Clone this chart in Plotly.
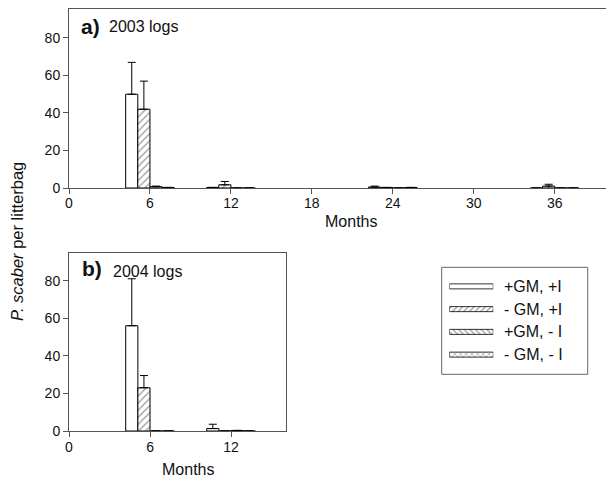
import plotly.graph_objects as go

W, H = 606, 480

# ---------------- data ----------------
series_names = ["+GM, +I", "- GM, +I", "+GM, - I", "- GM, - I"]
patterns = ["", "/", "\\", "x"]

months_2003 = [6, 12, 24, 36]
vals_2003 = [
    [50.0, 0.3, 0.5, 0.0],   # +GM, +I
    [42.0, 1.7, 0.3, 1.0],   # -GM, +I
    [0.7, 0.0, 0.0, 0.0],    # +GM, -I
    [0.3, 0.0, 0.3, 0.0],    # -GM, -I
]
err_2003 = [
    [17.0, 0.0, 0.5, 0.0],
    [15.0, 1.8, 0.0, 1.0],
    [0.3, 0.0, 0.0, 0.0],
    [0.0, 0.0, 0.0, 0.0],
]

months_2004 = [6, 12]
vals_2004 = [
    [56.0, 1.3],
    [23.0, 0.0],
    [0.0, 0.3],
    [0.0, 0.0],
]
err_2004 = [
    [25.0, 2.3],
    [6.5, 0.0],
    [0.0, 0.0],
    [0.0, 0.0],
]

x_ticks_2003 = [0, 6, 12, 18, 24, 30, 36]
x_ticks_2004 = [0, 6, 12]
y_ticks = [0, 20, 40, 60, 80]


def px(x):
    return x / W


def py(y):
    return 1 - y / H


FONT = "Liberation Sans, Arial, sans-serif"
AX = "#555555"
BAR_W = 0.9

fig = go.Figure()


def add_panel(months, vals, errs, xa, ya):
    for i in range(4):
        pat = dict(shape=patterns[i], fgcolor="#333333", bgcolor="white",
                   size=5, solidity=0.25) if patterns[i] else None
        marker = dict(color="white", line=dict(color="black", width=1))
        if pat:
            marker["pattern"] = pat
        fig.add_trace(go.Bar(
            x=months, y=vals[i], width=BAR_W, offset=-2 * BAR_W + i * BAR_W,
            marker=marker, xaxis=xa, yaxis=ya, showlegend=False,
            error_y=dict(type="data", symmetric=False, array=errs[i],
                         arrayminus=[0] * len(errs[i]), color="black",
                         thickness=1, width=4),
        ))


add_panel(months_2003, vals_2003, err_2003, "x", "y")
add_panel(months_2004, vals_2004, err_2004, "x2", "y2")

# legend swatches drawn as bars on a small hidden axis
for i in range(4):
    pat = dict(shape=patterns[i], fgcolor="#333333", bgcolor="white",
               size=4, solidity=0.3) if patterns[i] else None
    marker = dict(color="white", line=dict(color="black", width=0.8))
    if pat:
        marker["pattern"] = pat
    fig.add_trace(go.Bar(x=[1], y=[i + 1], orientation="h", width=0.22,
                         marker=marker, xaxis="x3", yaxis="y3",
                         showlegend=False, hoverinfo="skip"))

axis_common = dict(showgrid=False, zeroline=False, showline=True, linecolor=AX,
                   linewidth=1, ticks="outside", ticklen=5, tickcolor=AX,
                   tickfont=dict(family=FONT, size=14, color="#111"),
                   mirror=True, automargin=False)

fig.update_layout(
    width=W, height=H, margin=dict(l=0, r=0, t=0, b=0, autoexpand=False),
    paper_bgcolor="white", plot_bgcolor="white", barmode="overlay",
    xaxis=dict(domain=[px(69), 1.0], range=[0, 39.8], tickvals=x_ticks_2003,
               anchor="y", ticklabelstandoff=-3, **axis_common),
    yaxis=dict(domain=[py(188), py(9.3)], range=[0, 95.3], tickvals=y_ticks,
               anchor="x", **axis_common),
    xaxis2=dict(domain=[px(69), px(286)], range=[0, 16.07], tickvals=x_ticks_2004,
                anchor="y2", ticklabelstandoff=-2, **axis_common),
    yaxis2=dict(domain=[py(431), py(253)], range=[0, 94.7], tickvals=y_ticks,
                anchor="x2", **axis_common),
    xaxis3=dict(domain=[px(449.3), px(493.3)], range=[0, 1], visible=False,
                anchor="y3", automargin=False),
    yaxis3=dict(domain=[py(366), py(275)], range=[4.5, 0.5], visible=False,
                anchor="x3", automargin=False),
    font=dict(family=FONT, color="#111"),
)

shapes = [dict(type="rect", xref="paper", yref="paper", x0=px(441.7), x1=px(587.7),
               y0=py(374.3), y1=py(267.3), line=dict(color="#666", width=1))]
fig.update_layout(shapes=shapes)

ann = []
row_y = [286.4, 309.1, 331.9, 354.6]
for i, name in enumerate(series_names):
    ann.append(dict(x=px(501.7), y=py(row_y[i]), xref="paper", yref="paper",
                    text=name, showarrow=False, xanchor="left", yanchor="middle",
                    font=dict(family=FONT, size=16, color="#111")))

# panel labels
ann.append(dict(x=px(79), y=py(26), xref="paper", yref="paper", text="<b>a)</b>",
                showarrow=False, xanchor="left", yanchor="middle",
                font=dict(family=FONT, size=21, color="#111")))
ann.append(dict(x=px(107), y=py(26), xref="paper", yref="paper", text="2003 logs",
                showarrow=False, xanchor="left", yanchor="middle",
                font=dict(family=FONT, size=16, color="#111")))
ann.append(dict(x=px(79.5), y=py(268.5), xref="paper", yref="paper", text="<b>b)</b>",
                showarrow=False, xanchor="left", yanchor="middle",
                font=dict(family=FONT, size=21, color="#111")))
ann.append(dict(x=px(110.5), y=py(271), xref="paper", yref="paper", text="2004 logs",
                showarrow=False, xanchor="left", yanchor="middle",
                font=dict(family=FONT, size=16, color="#111")))

# axis titles
ann.append(dict(x=px(351), y=py(221), xref="paper", yref="paper", text="Months",
                showarrow=False, xanchor="center", yanchor="middle",
                font=dict(family=FONT, size=16, color="#111")))
ann.append(dict(x=px(188), y=py(469), xref="paper", yref="paper", text="Months",
                showarrow=False, xanchor="center", yanchor="middle",
                font=dict(family=FONT, size=16, color="#111")))
ann.append(dict(x=px(17), y=py(242), xref="paper", yref="paper",
                text="<i>P. scaber</i> per litterbag", textangle=-90,
                showarrow=False, xanchor="center", yanchor="middle",
                font=dict(family=FONT, size=16.5, color="#111")))

fig.update_layout(annotations=ann)

fig.write_html("out.html")
